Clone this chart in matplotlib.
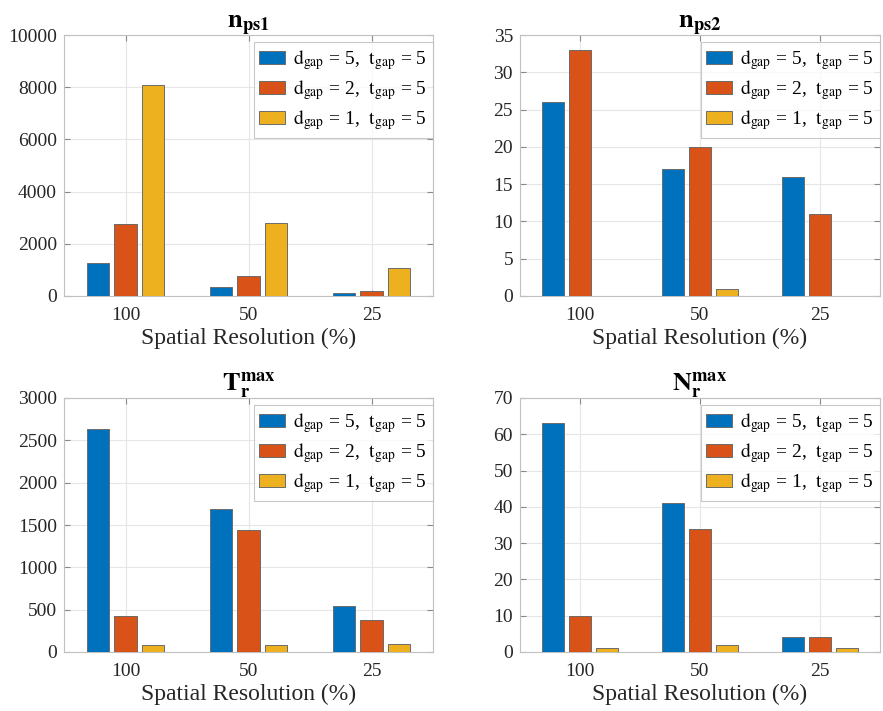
import matplotlib
matplotlib.use("Agg")
import matplotlib.pyplot as plt
import numpy as np

plt.rcParams['font.family'] = ['Liberation Serif', 'DejaVu Serif']
plt.rcParams['mathtext.fontset'] = 'stix'

categories = ['100', '50', '25']
series_labels = [r'$\mathrm{d_{gap}}$ = 5,  $\mathrm{t_{gap}}$ = 5',
                 r'$\mathrm{d_{gap}}$ = 2,  $\mathrm{t_{gap}}$ = 5',
                 r'$\mathrm{d_{gap}}$ = 1,  $\mathrm{t_{gap}}$ = 5']
colors = ['#0072BD', '#D95319', '#EDB120']

n_ps1 = [[1250, 350, 100], [2760, 770, 200], [8080, 2790, 1060]]
n_ps2 = [[26, 17, 16], [33, 20, 11], [0, 1, 0]]
T_r_max = [[2630, 1690, 540], [420, 1440, 380], [80, 85, 100]]
N_r_max = [[63, 41, 4], [10, 34, 4], [1, 2, 1]]

panels = [
    (n_ps1, r'$\mathbf{n_{ps1}}$', 10000, 2000),
    (n_ps2, r'$\mathbf{n_{ps2}}$', 35, 5),
    (T_r_max, r'$\mathbf{T_r^{max}}$', 3000, 500),
    (N_r_max, r'$\mathbf{N_r^{max}}$', 70, 10),
]

W, H = 883, 711
fig = plt.figure(figsize=(W / 100, H / 100), dpi=100)

boxes = [
    (64, 35, 433, 296),
    (520, 35, 880, 296),
    (64, 398, 433, 652),
    (520, 398, 880, 652),
]

x = np.arange(1, len(categories) + 1)
bw = 0.18
off = 0.225
for (data, title, ymax, ystep), (l, t, r, b) in zip(panels, boxes):
    ax = fig.add_axes([l / W, 1 - b / H, (r - l) / W, (b - t) / H])
    for i, (vals, c, lab) in enumerate(zip(data, colors, series_labels)):
        ax.bar(x + (i - 1) * off, vals, width=bw, color=c, edgecolor='#6b6b6b',
               linewidth=0.7, label=lab, zorder=3)
    ax.set_xlim(0.5, 3.5)
    ax.set_ylim(0, ymax)
    ax.set_xticks(x)
    ax.set_xticklabels(categories)
    ax.set_yticks(np.arange(0, ymax + ystep / 2, ystep))
    ax.grid(True, color='#e6e6e6', linewidth=0.8, zorder=0)
    ax.set_axisbelow(True)
    for s in ax.spines.values():
        s.set_color('#c0c0c0')
        s.set_linewidth(0.8)
    ax.tick_params(direction='in', length=4, color='#8a8a8a', labelsize=14,
                   labelcolor='#262626', top=True, right=True, pad=5)
    ax.tick_params(axis='x', pad=8)
    ax.set_xlabel('Spatial Resolution (%)', fontsize=17, color='#262626', labelpad=3)
    ax.set_title(title, fontsize=19, pad=5)
    ah = b - t
    leg = ax.legend(loc='upper right', bbox_to_anchor=(1.0, 1 - 7 / ah),
                    fontsize=14, frameon=True, fancybox=False,
                    edgecolor='#bbbbbb', handlelength=1.3, handleheight=0.65,
                    borderaxespad=0.0, labelspacing=0.33, handletextpad=0.45,
                    borderpad=0.3)
    leg.get_frame().set_linewidth(0.8)

fig.savefig('out.png', dpi=100)
